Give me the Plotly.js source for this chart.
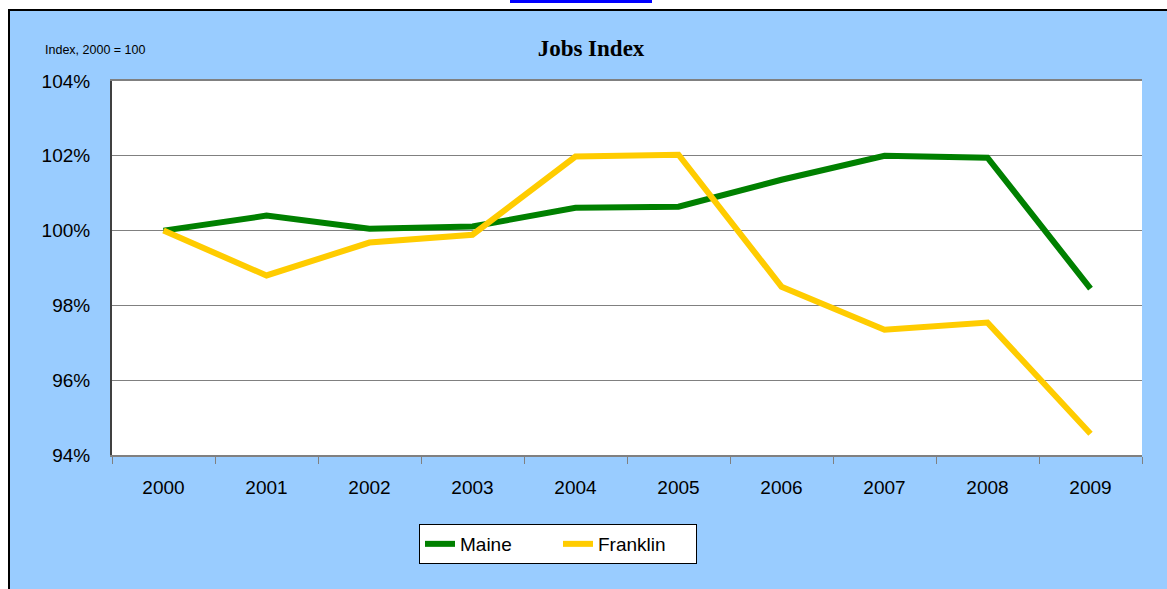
<!DOCTYPE html>
<html>
<head>
<meta charset="utf-8">
<script src="https://cdn.plot.ly/plotly-3.0.1.min.js"></script>
<style>
  html, body { margin: 0; padding: 0; background: #ffffff; width: 1167px; height: 589px; overflow: hidden; }
  #bg { position: absolute; left: 8px; top: 9px; width: 1200px; height: 620px;
        background: #99CCFF; border-left: 2px solid #000; border-top: 2px solid #000; }
  #link { position: absolute; left: 510px; top: 0px; width: 142px; height: 3px; background: #0000FF; }
  #chart { position: absolute; left: 0; top: 0; width: 1167px; height: 589px; }
</style>
</head>
<body>
<div id="bg"></div>
<div id="link"></div>
<div id="chart"></div>
<script>
const years = ['2000','2001','2002','2003','2004','2005','2006','2007','2008','2009'];
const maine = [100.00, 100.40, 100.05, 100.11, 100.61, 100.64, 101.36, 102.00, 101.95, 98.45];
const franklin = [100.00, 98.80, 99.68, 99.89, 101.98, 102.03, 98.50, 97.35, 97.54, 94.57];
const yTicks = [94, 96, 98, 100, 102, 104];
const yTickText = ['94%', '96%', '98%', '100%', '102%', '104%'];

const traces = [
  { x: years, y: maine, name: 'Maine', type: 'scatter', mode: 'lines',
    line: { color: '#008000', width: 6 } },
  { x: years, y: franklin, name: 'Franklin', type: 'scatter', mode: 'lines',
    line: { color: '#FFCC00', width: 6 } }
];

const layout = {
  width: 1167, height: 589,
  paper_bgcolor: 'rgba(0,0,0,0)',
  plot_bgcolor: '#ffffff',
  margin: { l: 112, r: 25, t: 81, b: 134, pad: 0 },
  font: { family: 'Liberation Sans, Arial, sans-serif', size: 19, color: '#000000' },
  title: { text: '<b>Jobs Index</b>', x: 591/1167, xanchor: 'center', xref: 'container',
           y: 1 - 48/589, yref: 'container', yanchor: 'middle',
           font: { family: 'Liberation Serif, Times New Roman, serif', size: 23, color: '#000' } },
  xaxis: {
    type: 'category', tickvals: years, ticktext: years, range: [-0.5, 9.5],
    tickson: 'boundaries', ticks: 'outside', ticklen: 7, tickcolor: '#808080', tickwidth: 1,
    showline: true, linecolor: '#808080', linewidth: 2, mirror: true,
    showgrid: false, zeroline: false, fixedrange: true,
    tickfont: { size: 19 }, ticklabelstandoff: 14
  },
  yaxis: {
    range: [94, 104], tickvals: yTicks, ticktext: yTickText,
    showline: true, linecolor: '#404040', linewidth: 2,
    showgrid: true, gridcolor: '#808080', gridwidth: 1,
    zeroline: false, ticks: '', fixedrange: true,
    tickfont: { size: 19 }, ticklabelstandoff: 16
  },
  showlegend: true,
  legend: {
    orientation: 'h', x: (419-112)/1030, xanchor: 'left', y: (455-524)/374, yanchor: 'top',
    bgcolor: '#ffffff', bordercolor: '#000000', borderwidth: 1,
    font: { size: 19 }, entrywidth: 93, entrywidthmode: 'pixels', tracegroupgap: 0
  },
  annotations: [
    { text: 'Index, 2000 = 100', xref: 'paper', yref: 'paper',
      x: (43-112)/1030, xanchor: 'left', y: (455-50)/374, yanchor: 'middle',
      showarrow: false, font: { size: 12.5, color: '#000' } }
  ]
};

Plotly.newPlot('chart', traces, layout, { displayModeBar: false, staticPlot: true });
</script>
</body>
</html>
